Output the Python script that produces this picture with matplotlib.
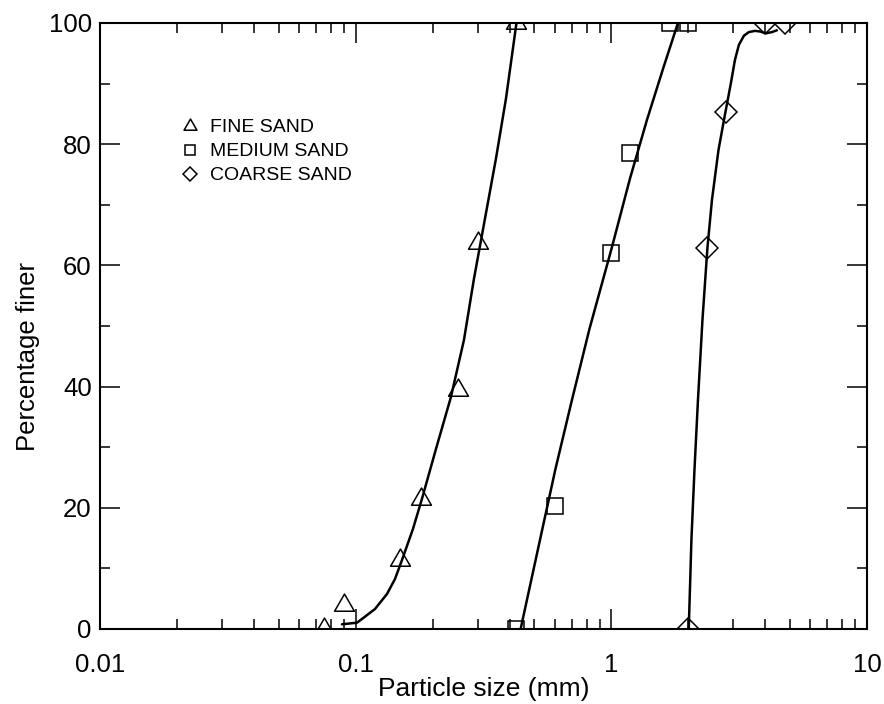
import matplotlib
matplotlib.use('Agg')
import matplotlib.pyplot as plt
from matplotlib.path import Path
from matplotlib.ticker import FixedLocator, MultipleLocator, FuncFormatter, LogLocator, NullFormatter

plt.rcParams['font.family'] = ['Liberation Sans', 'DejaVu Sans']

# ---- measured points ----
fine_x = [0.075, 0.09, 0.149, 0.18, 0.251, 0.30, 0.424]
fine_y = [0.0, 4.0, 11.4, 21.5, 39.4, 63.7, 100.0]
medium_x = [0.425, 0.60, 1.0, 1.18, 1.70, 1.99]
medium_y = [0.0, 20.3, 62.0, 78.5, 100.0, 100.0]
coarse_x = [2.0, 2.37, 2.81, 3.98, 4.77]
coarse_y = [0.0, 62.9, 85.3, 100.0, 100.0]

# ---- fitted curves ----
fine_cx = [0.0884, 0.1012, 0.1087, 0.1190, 0.1326, 0.1425, 0.1518, 0.1675,
           0.1816, 0.2061, 0.2359, 0.2652, 0.2902, 0.3204, 0.3537, 0.3871, 0.4255]
fine_cy = [0.78, 1.04, 2.03, 3.30, 5.78, 8.25, 11.39, 16.5,
           21.45, 29.7, 38.3, 47.7, 57.8, 67.7, 77.6, 87.5, 100.0]
medium_cx = [0.4418, 0.5259, 0.6045, 0.7014, 0.8210, 1.0054, 1.1823, 1.3780,
             1.5917, 1.8218]
medium_cy = [0.0, 14.7, 26.4, 37.8, 49.5, 63.0, 74.3, 84.0, 92.4, 100.0]
coarse_cx = [2.008, 2.057, 2.114, 2.182, 2.272, 2.376, 2.475, 2.624, 2.794,
             2.936, 3.044, 3.155, 3.300, 3.452, 3.644, 3.813, 4.024, 4.248, 4.443]
coarse_cy = [0.0, 14.7, 26.2, 37.8, 51.0, 62.9, 70.8, 79.0, 85.3,
             90.1, 93.9, 96.4, 97.9, 98.5, 98.7, 98.6, 98.3, 98.5, 98.8]

series_labels = ['FINE SAND', 'MEDIUM SAND', 'COARSE SAND']
xtick_vals = [0.01, 0.1, 1, 10]

tri = Path([(0, 1), (-0.866, -0.5), (0.866, -0.5), (0, 1)],
           [Path.MOVETO, Path.LINETO, Path.LINETO, Path.CLOSEPOLY])

fig = plt.figure(figsize=(8.84, 7.04), dpi=100)
ax = fig.add_axes([100 / 884, (704 - 629) / 704, 767 / 884, 606 / 704])
ax.set_xscale('log')
ax.set_xlim(0.01, 10)
ax.set_ylim(0, 100)

lw = 1.8
for cx, cy in [(fine_cx, fine_cy), (medium_cx, medium_cy), (coarse_cx, coarse_cy)]:
    ax.plot(cx, cy, color='k', lw=lw, solid_joinstyle='round', solid_capstyle='round')

mew = 1.1
ax.plot(fine_x, fine_y, ls='none', marker=tri, ms=16.5, mfc='none', mec='k',
        mew=mew, label=series_labels[0])
ax.plot(medium_x, medium_y, ls='none', marker='s', ms=11.5, mfc='none', mec='k',
        mew=mew, label=series_labels[1])
ax.plot(coarse_x, coarse_y, ls='none', marker='D', ms=11, mfc='none', mec='k',
        mew=mew, label=series_labels[2])

ax.xaxis.set_major_locator(FixedLocator(xtick_vals))
ax.xaxis.set_major_formatter(FuncFormatter(lambda v, p: '%g' % v))
ax.xaxis.set_minor_locator(LogLocator(base=10, subs=range(2, 10)))
ax.xaxis.set_minor_formatter(NullFormatter())
ax.yaxis.set_major_locator(MultipleLocator(20))
ax.yaxis.set_minor_locator(MultipleLocator(10))

ax.tick_params(which='both', direction='in', top=True, right=True, width=1.1,
               colors='k', labelsize=18.5)
ax.tick_params(which='major', length=14.4)
ax.tick_params(which='minor', length=7.2)
ax.tick_params(axis='x', which='major', pad=17)
ax.tick_params(axis='y', which='major', pad=6)
for s in ax.spines.values():
    s.set_linewidth(1.5)

ax.set_xlabel('Particle size (mm)', fontsize=19)
ax.xaxis.set_label_coords(0.5, -0.079)
ax.set_ylabel('Percentage finer', fontsize=18.5)
ax.yaxis.set_label_coords(-0.078, 0.45)

ax.legend(loc='upper left', bbox_to_anchor=(0.105, 0.842), frameon=False,
          fontsize=14, handlelength=1.0, handletextpad=0.5, labelspacing=0.33,
          borderaxespad=0, borderpad=0, markerscale=0.65)

fig.savefig('out.png', dpi=100)
